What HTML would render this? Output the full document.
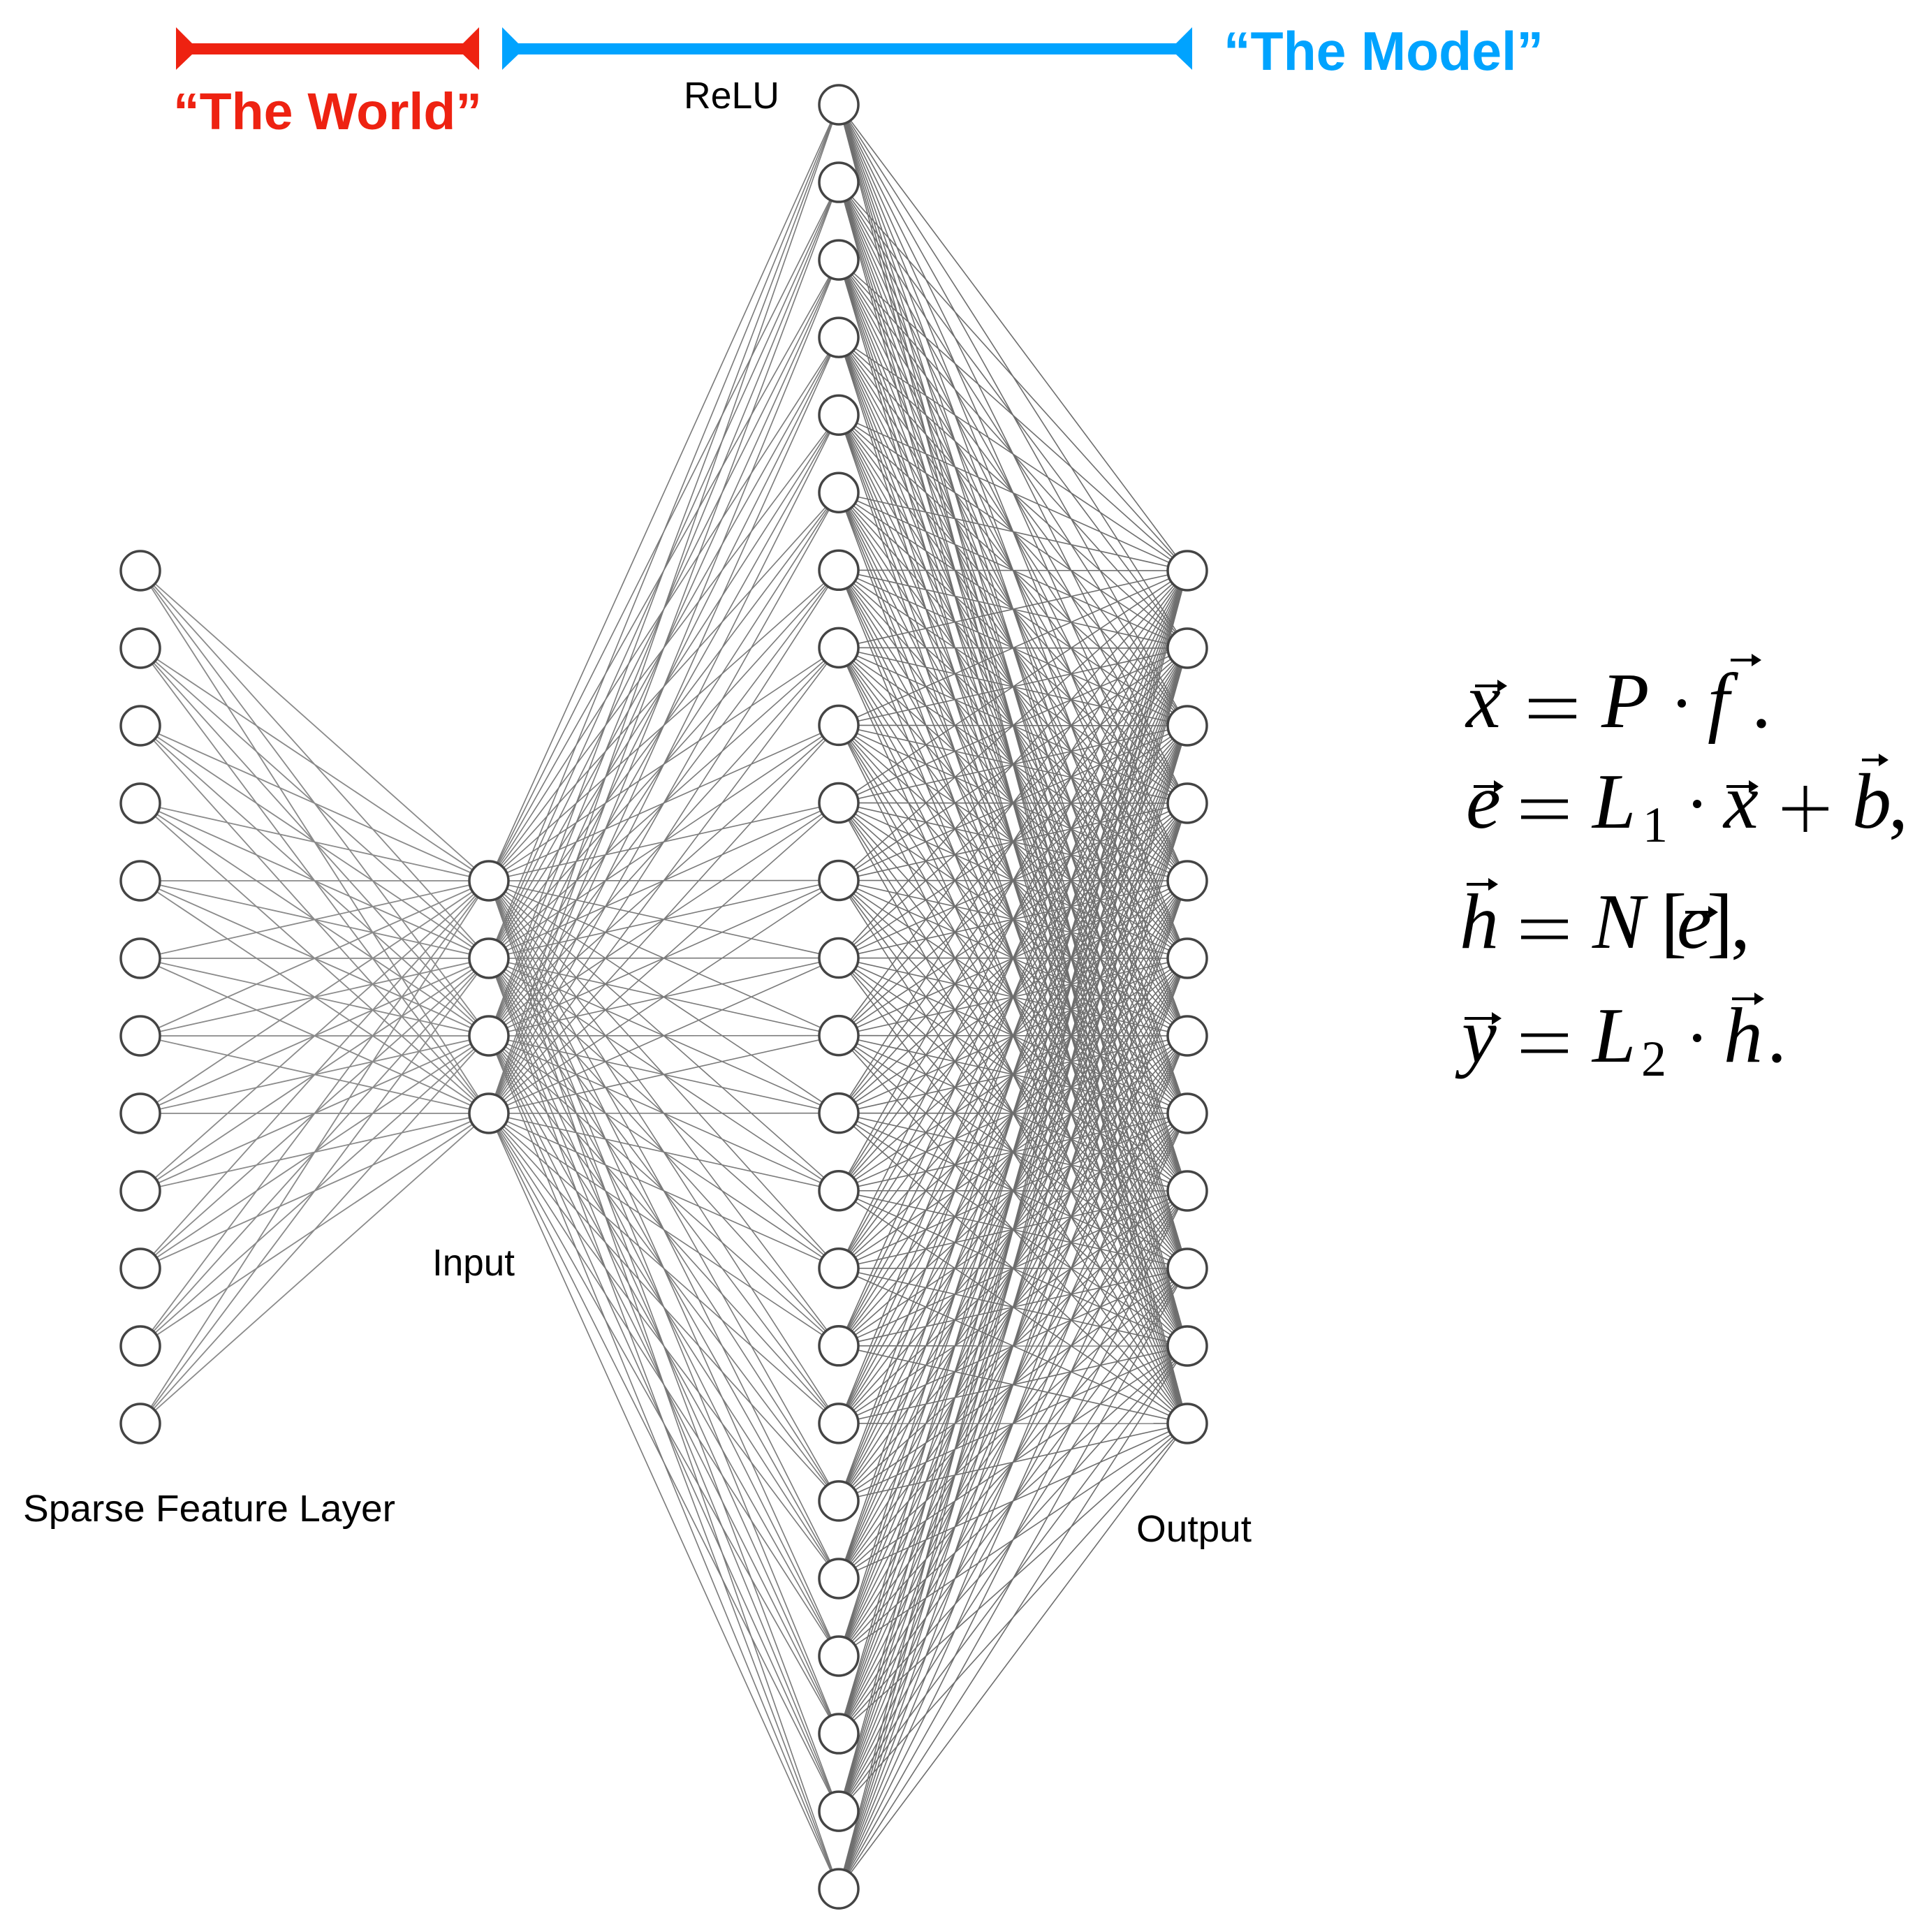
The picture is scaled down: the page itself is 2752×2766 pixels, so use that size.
<!DOCTYPE html>
<html><head><meta charset="utf-8"><style>
html,body{margin:0;padding:0;background:#fff;}
svg{display:block;}
</style></head><body>
<svg id="s" width="2752" height="2766" viewBox="0 0 2752 2766" xmlns="http://www.w3.org/2000/svg">
<rect width="2752" height="2766" fill="#fff"/>
<g id="edges"></g>
<g id="nodes"></g>
<rect x="270" y="62" width="400" height="16" fill="#ee2211"/>
<polygon points="252,39 275,62 275,78 252,100" fill="#ee2211"/>
<polygon points="686,39 663,62 663,78 686,100" fill="#ee2211"/>
<rect x="736" y="62" width="958" height="16" fill="#00a3ff"/>
<polygon points="719,39 742,62 742,78 719,100" fill="#00a3ff"/>
<polygon points="1707,39 1684,62 1684,78 1707,100" fill="#00a3ff"/>
<text x="248" y="185" font-family="Liberation Sans, sans-serif" font-weight="bold" font-size="74" fill="#ee2211" textLength="442" lengthAdjust="spacingAndGlyphs">“The World”</text>
<text x="1752" y="100" font-family="Liberation Sans, sans-serif" font-weight="bold" font-size="78" fill="#00a3ff" textLength="458" lengthAdjust="spacingAndGlyphs">“The Model”</text>
<g font-family="Liberation Sans, sans-serif" font-size="54" fill="#000">
<text x="979" y="155" textLength="137" lengthAdjust="spacingAndGlyphs">ReLU</text>
<text x="33" y="2178" textLength="533" lengthAdjust="spacingAndGlyphs">Sparse Feature Layer</text>
<text x="619" y="1826" textLength="118" lengthAdjust="spacingAndGlyphs">Input</text>
<text x="1627" y="2207" textLength="165" lengthAdjust="spacingAndGlyphs">Output</text>
</g>
<g font-family="Liberation Serif, serif" font-style="italic" font-size="112" fill="#000">
<text x="2099" y="1041">x</text>
<text x="2293" y="1041">P</text>
<text x="2445" y="1041">f</text>
<text x="2508" y="1041" font-style="normal">.</text>
<text x="2099" y="1185">e</text>
<text x="2280" y="1185">L</text>
<text x="2352" y="1205" font-style="normal" font-size="72">1</text>
<text x="2468" y="1185">x</text>
<text x="2652" y="1185">b</text>
<text x="2704" y="1185" font-style="normal">,</text>
<text x="2090" y="1357">h</text>
<text x="2280" y="1357">N</text>
<text x="2378" y="1357" font-style="normal">[</text>
<text x="2401" y="1357">e</text>
<text x="2444" y="1357" font-style="normal">]</text>
<text x="2478" y="1357" font-style="normal">,</text>
<text x="2093" y="1520">y</text>
<text x="2280" y="1520">L</text>
<text x="2350" y="1540" font-style="normal" font-size="72">2</text>
<text x="2468" y="1520">h</text>
<text x="2530" y="1520" font-style="normal">.</text>
</g>
<g fill="#000">
<circle cx="2408" cy="1007" r="6"/>
<circle cx="2430" cy="1151" r="6"/>
<circle cx="2430" cy="1486" r="6"/>
</g>
<g stroke="#000" stroke-width="5">
<line x1="2189" y1="1003" x2="2257" y2="1003"/><line x1="2189" y1="1026" x2="2257" y2="1026"/>
<line x1="2178" y1="1147" x2="2245" y2="1147"/><line x1="2178" y1="1170" x2="2245" y2="1170"/>
<line x1="2178" y1="1319" x2="2245" y2="1319"/><line x1="2178" y1="1342" x2="2245" y2="1342"/>
<line x1="2178" y1="1482" x2="2245" y2="1482"/><line x1="2178" y1="1505" x2="2245" y2="1505"/>
<line x1="2552" y1="1158" x2="2618" y2="1158"/><line x1="2585" y1="1125" x2="2585" y2="1191"/>
</g>
<g id="arrows" stroke="#000" stroke-width="4" fill="#000"></g>
<script>
var NS="http://www.w3.org/2000/svg";
function el(p,n,a){var e=document.createElementNS(NS,n);for(var k in a)e.setAttribute(k,a[k]);p.appendChild(e);return e;}
var E=document.getElementById('edges'),N=document.getElementById('nodes'),A=document.getElementById('arrows');
var sp=[],inp=[],relu=[],out=[];
for(var i=0;i<12;i++)sp.push([201,817+111*i]);
for(var i=0;i<4;i++)inp.push([700,1261+111*i]);
for(var i=0;i<24;i++)relu.push([1201,150+111.05*i]);
for(var i=0;i<12;i++)out.push([1700,817+111*i]);
function conn(a,b,c,w){a.forEach(function(p){b.forEach(function(q){el(E,'line',{x1:p[0],y1:p[1],x2:q[0],y2:q[1],stroke:c,'stroke-width':w});});});}
conn(sp,inp,'#8a8a8a',1.8);
conn(inp,relu,'#7a7a7a',1.6);
conn(relu,out,'#6e6e6e',1.6);
[sp,inp,relu,out].forEach(function(L){L.forEach(function(p){el(N,'ellipse',{cx:p[0],cy:p[1],rx:28,ry:28,fill:'#fff',stroke:'#444','stroke-width':3.5});});});
function arr(x1,x2,y){el(A,'line',{x1:x1,y1:y,x2:x2-8,y2:y});el(A,'polygon',{points:(x2-14)+','+(y-9)+' '+x2+','+y+' '+(x2-14)+','+(y+9),stroke:'none'});}
arr(2112,2158,982);arr(2478,2522,945);
arr(2110,2153,1126);arr(2472,2518,1126);arr(2666,2704,1088);
arr(2100,2145,1266);arr(2413,2460,1306);
arr(2097,2150,1458);arr(2480,2526,1430);
</script>
</svg>
</body></html>
